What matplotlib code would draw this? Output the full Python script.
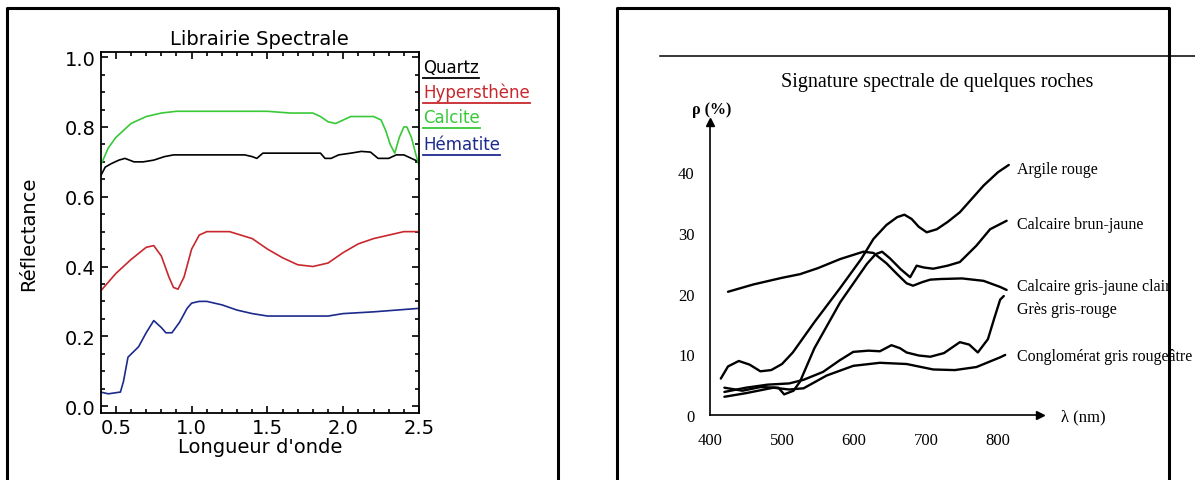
import matplotlib
matplotlib.use("Agg")
import matplotlib.pyplot as plt
from matplotlib.lines import Line2D
from matplotlib.ticker import MultipleLocator

W, H = 1195, 481

# ---- left panel data (wavelength in um, reflectance) ----
quartz_x = [0.40, 0.43, 0.47, 0.52, 0.56, 0.62, 0.68, 0.75, 0.82, 0.88, 0.95, 1.05, 1.15,
            1.25, 1.35, 1.40, 1.43, 1.47, 1.55, 1.65, 1.75, 1.85, 1.88, 1.92, 1.97, 2.05,
            2.12, 2.18, 2.23, 2.30, 2.35, 2.40, 2.45, 2.50]
quartz_y = [0.66, 0.685, 0.695, 0.705, 0.71, 0.70, 0.70, 0.705, 0.715, 0.72, 0.72, 0.72, 0.72,
            0.72, 0.72, 0.715, 0.71, 0.725, 0.725, 0.725, 0.725, 0.725, 0.71, 0.71, 0.72, 0.725,
            0.73, 0.728, 0.71, 0.71, 0.72, 0.72, 0.71, 0.70]

calcite_x = [0.40, 0.45, 0.50, 0.55, 0.60, 0.70, 0.80, 0.90, 1.00, 1.25, 1.50, 1.65, 1.80,
             1.85, 1.90, 1.95, 2.00, 2.05, 2.20, 2.25, 2.28, 2.31, 2.34, 2.37, 2.40, 2.42,
             2.45, 2.48, 2.50]
calcite_y = [0.69, 0.74, 0.77, 0.79, 0.81, 0.83, 0.84, 0.845, 0.845, 0.845, 0.845, 0.84, 0.84,
             0.83, 0.815, 0.81, 0.82, 0.83, 0.83, 0.82, 0.79, 0.75, 0.725, 0.77, 0.80, 0.80,
             0.77, 0.72, 0.69]

hyper_x = [0.40, 0.50, 0.60, 0.70, 0.75, 0.80, 0.85, 0.88, 0.91, 0.95, 1.00, 1.05, 1.10,
           1.25, 1.40, 1.50, 1.60, 1.70, 1.80, 1.90, 2.00, 2.10, 2.20, 2.30, 2.40, 2.50]
hyper_y = [0.33, 0.38, 0.42, 0.455, 0.46, 0.43, 0.37, 0.34, 0.335, 0.37, 0.45, 0.49, 0.50,
           0.50, 0.48, 0.45, 0.425, 0.405, 0.40, 0.41, 0.44, 0.465, 0.48, 0.49, 0.50, 0.50]

hemat_x = [0.40, 0.45, 0.53, 0.55, 0.58, 0.65, 0.70, 0.75, 0.80, 0.83, 0.87, 0.92, 0.97,
           1.00, 1.05, 1.10, 1.20, 1.30, 1.40, 1.50, 1.90, 2.00, 2.20, 2.50]
hemat_y = [0.04, 0.035, 0.04, 0.07, 0.14, 0.17, 0.21, 0.245, 0.225, 0.21, 0.21, 0.24, 0.28,
           0.295, 0.30, 0.30, 0.29, 0.275, 0.265, 0.258, 0.258, 0.265, 0.27, 0.28]

left_names = ["Quartz", "Hypersthène", "Calcite", "Hématite"]
left_colors = ["#000000", "#c8282d", "#38c838", "#1c2a8c"]

# ---- right panel data (wavelength in nm, reflectance in %) ----
argile_x = [415, 425, 440, 455, 470, 485, 500, 515, 545, 580, 610, 627, 645, 660, 670,
            680, 690, 701, 715, 730, 747, 765, 780, 800, 815]
argile_y = [6.0, 8.0, 8.9, 8.3, 7.2, 7.4, 8.4, 10.3, 15.3, 20.8, 25.7, 29.0, 31.3, 32.6, 33.0,
            32.3, 31.0, 30.1, 30.6, 31.8, 33.4, 35.8, 37.8, 40.0, 41.2]

brun_x = [420, 445, 470, 495, 503, 516, 525, 545, 581, 618, 630, 639, 650, 665, 678, 687,
          697, 710, 730, 747, 770, 789, 812]
brun_y = [4.5, 4.0, 4.6, 4.5, 3.4, 4.0, 5.5, 11.0, 18.6, 24.9, 26.5, 26.9, 25.8, 24.0, 22.7,
          24.6, 24.3, 24.1, 24.6, 25.2, 27.9, 30.6, 32.0]

grisj_x = [425, 460, 500, 525, 550, 581, 613, 627, 645, 660, 673, 682, 695, 706, 720, 750,
           780, 803, 812]
grisj_y = [20.3, 21.5, 22.6, 23.2, 24.2, 25.7, 26.9, 26.7, 25.0, 23.2, 21.7, 21.3, 21.9, 22.3,
           22.4, 22.5, 22.1, 21.1, 20.6]

gres_x = [420, 450, 480, 510, 530, 557, 580, 599, 620, 636, 652, 664, 673, 690, 706, 725,
          747, 760, 772, 786, 795, 803, 808]
gres_y = [3.8, 4.5, 5.0, 5.2, 5.8, 7.1, 9.0, 10.4, 10.6, 10.5, 11.5, 11.0, 10.3, 9.8, 9.6,
          10.2, 12.0, 11.6, 10.3, 12.5, 16.0, 19.0, 19.6]

congl_x = [420, 450, 488, 510, 530, 562, 599, 636, 673, 710, 740, 770, 803, 810]
congl_y = [3.0, 3.6, 4.5, 4.2, 4.4, 6.5, 8.1, 8.6, 8.4, 7.5, 7.4, 7.9, 9.5, 9.9]

right_names = ["Argile rouge", "Calcaire brun-jaune", "Calcaire gris-jaune clair",
               "Grès gris-rouge", "Conglomérat gris rougeâtre"]
right_label_y = [170, 225, 287, 310, 357]
right_ticks_x = [400, 500, 600, 700, 800]
right_ticks_y = [0, 10, 20, 30, 40]


def fx(px):
    return px / W


def fy(py):
    return 1 - py / H


fig = plt.figure(figsize=(W / 100, H / 100), dpi=100)

# panel frames (open at the bottom, as in the cropped page)
for x0, x1 in [(7, 558), (617, 1169)]:
    fig.add_artist(Line2D([fx(x0), fx(x0), fx(x1), fx(x1)], [fy(490), fy(9), fy(9), fy(490)],
                          transform=fig.transFigure, color="black", lw=2.2))
fig.add_artist(Line2D([fx(660), fx(1195)], [fy(57), fy(57)], transform=fig.transFigure,
                      color="black", lw=1.1))

# ---------------- left panel ----------------
ax = fig.add_axes([fx(100.7), fy(414), (419 - 100.7) / W, (414 - 53) / H])
for (xs, ys), c in zip([(quartz_x, quartz_y), (hyper_x, hyper_y),
                        (calcite_x, calcite_y), (hemat_x, hemat_y)], left_colors):
    ax.plot(xs, ys, color=c, lw=1.2)
ax.set_xlim(0.4, 2.5)
ax.set_ylim(-0.02, 1.015)
ax.xaxis.set_major_locator(MultipleLocator(0.5))
ax.xaxis.set_minor_locator(MultipleLocator(0.1))
ax.yaxis.set_major_locator(MultipleLocator(0.2))
ax.yaxis.set_minor_locator(MultipleLocator(0.05))
ax.xaxis.set_major_formatter(lambda v, p: f"{v:.1f}")
ax.yaxis.set_major_formatter(lambda v, p: f"{v:.1f}")
ax.tick_params(which="both", direction="in", top=True, right=True, labelsize=14, pad=3.5)
ax.tick_params(which="major", length=5, width=1.2)
ax.tick_params(which="minor", length=3, width=1.2)
for s in ax.spines.values():
    s.set_linewidth(1.3)
ax.set_title("Librairie Spectrale", fontsize=14, pad=6)
ax.set_xlabel("Longueur d'onde", fontsize=14, labelpad=0)
ax.set_ylabel("Réflectance", fontsize=14)
ax.yaxis.set_label_coords((38 - 100.7) / (419 - 100.7), 0.5)

legend_y = [68, 93, 118, 145]
legend_texts = []
for name, c, py in zip(left_names, left_colors, legend_y):
    t = fig.text(fx(423), fy(py), name, color=c, fontsize=12, ha="left", va="center")
    legend_texts.append((t, c))

# ---------------- right panel ----------------
serif = "Liberation Serif"
ax2 = fig.add_axes([fx(710), fy(416), (1040 - 710) / W, (416 - 123) / H])
for xs, ys in [(argile_x, argile_y), (brun_x, brun_y), (grisj_x, grisj_y),
               (gres_x, gres_y), (congl_x, congl_y)]:
    ax2.plot(xs, ys, color="black", lw=1.7, solid_joinstyle="round", solid_capstyle="round")
ax2.set_xlim(400, 400 + 330 / 0.72)
ax2.set_ylim(0, (416 - 123) / 6.07)
ax2.spines[["top", "right"]].set_visible(False)
ax2.spines[["left", "bottom"]].set_linewidth(1.2)
ax2.plot(1, 0, ">k", transform=ax2.transAxes, clip_on=False, ms=6)
ax2.plot(0, 1, "^k", transform=ax2.transAxes, clip_on=False, ms=6)
ax2.set_xticks(right_ticks_x)
ax2.set_yticks(right_ticks_y)
ax2.tick_params(length=0, labelsize=12)
ax2.tick_params(axis="x", pad=12)
ax2.tick_params(axis="y", pad=11)
for lab in ax2.get_xticklabels() + ax2.get_yticklabels():
    lab.set_family(serif)

fig.text(fx(937), fy(83), "Signature spectrale de quelques roches", family=serif,
         fontsize=14.5, ha="center", va="center")
fig.text(fx(712), fy(110), "ρ (%)", family=serif, fontsize=11.5, ha="center", va="center",
         weight="bold")
fig.text(fx(1083), fy(417), "λ (nm)", family=serif, fontsize=12, ha="center", va="center")
for name, py in zip(right_names, right_label_y):
    fig.text(fx(1017), fy(py), name, family=serif, fontsize=11.5, ha="left", va="center")

# underline the left legend entries
fig.canvas.draw()
r = fig.canvas.get_renderer()
for t, c in legend_texts:
    bb = t.get_window_extent(r)
    y = bb.y0 - 2
    fig.add_artist(Line2D([bb.x0 / W, bb.x1 / W], [y / H, y / H], transform=fig.transFigure,
                          color=c, lw=1.3))

fig.savefig("out.png", dpi=100)
